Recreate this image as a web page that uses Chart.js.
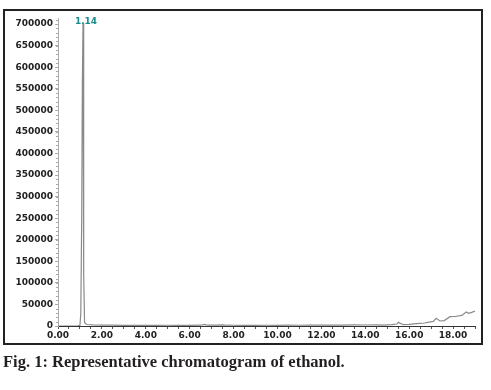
<!DOCTYPE html>
<html>
<head>
<meta charset="utf-8">
<script src="https://cdn.jsdelivr.net/npm/chart.js@4/dist/chart.umd.min.js"></script>
<style>
  body { margin: 0; background: #fff; width: 491px; height: 390px; position: relative; overflow: hidden; }
  #box { position: absolute; left: 3px; top: 9px; width: 476px; height: 332px; border: 2px solid #222; }
  #wrap { position: absolute; left: 0; top: 0; width: 491px; height: 345px; }
  #caption { position: absolute; left: 3px; top: 352px; font-family: "Liberation Serif", serif; font-weight: bold; font-size: 16.5px; color: #231f20; white-space: nowrap; }
</style>
</head>
<body>
<div id="wrap"><canvas id="myChart" width="491" height="345"></canvas></div>
<div id="box"></div>
<div id="caption">Fig. 1: Representative chromatogram of ethanol.</div>
<script>
// retention time (min) and detector response
var tempi = [0, 0.5, 0.9, 1.0, 1.04, 1.08, 1.11, 1.14, 1.16, 1.18, 1.21, 1.3, 1.6, 2.0, 2.5, 3.0, 3.5, 4.0, 4.5, 5.0, 5.5, 6.0, 6.5, 6.68, 6.8, 7.2, 7.5, 7.7, 8.0, 8.5, 9.0, 9.5, 10.0, 10.5, 11.0, 11.5, 12.0, 12.5, 13.0, 13.5, 14.0, 14.5, 14.83, 15.2, 15.44, 15.52, 15.6, 15.74, 16.0, 16.35, 16.7, 17.1, 17.23, 17.4, 17.6, 17.86, 18.1, 18.4, 18.6, 18.7, 18.85, 19.0];
var risposta = [0, 0, 300, 1500, 30000, 250000, 560000, 702000, 450000, 120000, 8000, 3500, 2500, 2000, 1800, 1500, 1600, 1400, 1500, 1700, 1500, 1600, 1800, 3500, 1800, 2000, 2600, 1800, 1700, 1600, 1500, 1700, 1600, 1800, 1700, 1900, 2000, 1800, 2200, 2400, 2300, 2600, 2200, 3200, 4600, 8600, 6000, 3000, 3800, 5300, 7000, 10800, 17800, 11600, 12500, 21600, 22000, 24500, 32500, 29400, 31500, 34800];

var tickY = [0, 50000, 100000, 150000, 200000, 250000, 300000, 350000, 400000, 450000, 500000, 550000, 600000, 650000, 700000];

var picchi = [1.14];
var etichettePicchi = ["1.14"];

var punti = [];
for (var i = 0; i < tempi.length; i++) {
    punti.push({ x: tempi[i], y: risposta[i] });
}

var fontAssi = { family: "'DejaVu Sans', sans-serif", size: 9, weight: 'bold' };

function multiplo(v, passo) {
    return Math.abs(v / passo - Math.round(v / passo)) < 1e-6;
}

const etichettaPicco = {
    id: 'etichettaPicco',
    afterDatasetsDraw(chart) {
        const ctx = chart.ctx;
        const x = chart.scales.x;
        const y = chart.scales.y;
        ctx.save();
        // tacche minori asse y
        ctx.strokeStyle = '#aaa';
        ctx.lineWidth = 1;
        ctx.beginPath();
        for (var v = 0; v <= y.max; v += 10000) {
            var py = Math.round(y.getPixelForValue(v)) + 0.5;
            ctx.moveTo(y.right - 2, py);
            ctx.lineTo(y.right, py);
        }
        ctx.stroke();
        ctx.fillStyle = '#1b8c8c';
        ctx.font = "bold 9px 'DejaVu Sans', sans-serif";
        ctx.textAlign = 'center';
        ctx.textBaseline = 'bottom';
        for (var p = 0; p < picchi.length; p++) {
            ctx.fillText(etichettePicchi[p], x.getPixelForValue(picchi[p]) + 3, chart.chartArea.top + 8);
        }
        ctx.restore();
    }
};

const ctx = document.getElementById('myChart').getContext('2d');
const myChart = new Chart(ctx, {
    type: 'line',
    data: {
        datasets: [{
            data: punti,
            borderColor: '#8a8a8a',
            borderWidth: 1.2,
            pointRadius: 0,
            tension: 0,
            fill: false
        }]
    },
    options: {
        responsive: false,
        animation: false,
        layout: { padding: { top: 18, right: 16, left: 0, bottom: 0 } },
        plugins: { legend: { display: false }, tooltip: { enabled: false } },
        scales: {
            x: {
                type: 'linear',
                min: 0,
                max: 19,
                afterFit: function (s) { s.height = 19; },
                border: { color: '#333', width: 1 },
                grid: { drawOnChartArea: false, tickLength: 3, color: '#555' },
                ticks: {
                    stepSize: 0.5,
                    autoSkip: false,
                    maxRotation: 0,
                    padding: 1,
                    color: '#222',
                    font: fontAssi,
                    callback: function (v) { return multiplo(v, 2) ? v.toFixed(2) : ''; }
                }
            },
            y: {
                min: 0,
                max: 714000,
                afterFit: function (s) { s.width = 58; },
                afterBuildTicks: function (s) { s.ticks = tickY.map(function (v) { return { value: v }; }); },
                border: { color: '#aaa', width: 1 },
                grid: { drawOnChartArea: false, tickLength: 3, color: '#aaa' },
                ticks: {
                    autoSkip: false,
                    padding: 2,
                    color: '#222',
                    font: fontAssi,
                    callback: function (v) { return String(v); }
                }
            }
        }
    },
    plugins: [etichettaPicco]
});
</script>
</body>
</html>
